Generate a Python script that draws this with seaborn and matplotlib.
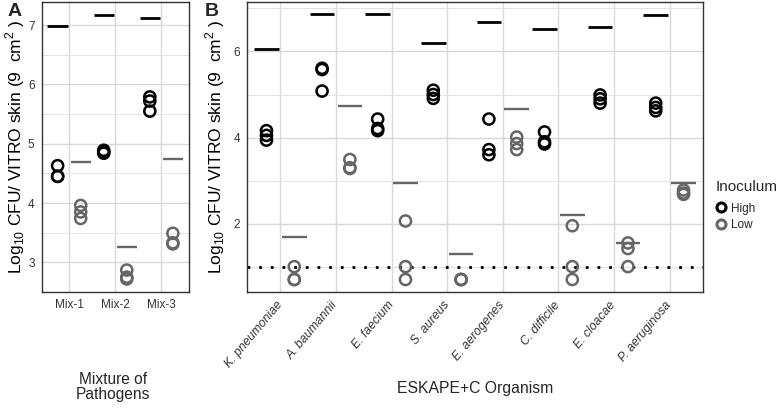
import numpy as np
import pandas as pd
import matplotlib
matplotlib.use("Agg")
import matplotlib.pyplot as plt
from matplotlib.lines import Line2D
from matplotlib.ticker import MultipleLocator
import seaborn as sns

# ---------------- data ----------------
mix_cats = ["Mix-1", "Mix-2", "Mix-3"]
mix_high = [[4.63, 4.45, 4.45], [4.89, 4.86, 4.84], [5.79, 5.72, 5.55]]
mix_low = [[3.96, 3.85, 3.74], [2.87, 2.75, 2.72], [3.49, 3.33, 3.31]]
mix_inoc_high = [6.99, 7.17, 7.12]
mix_inoc_low = [4.69, 3.26, 4.75]

org_cats = ["K. pneumoniae", "A. baumannii", "E. faecium", "S. aureus",
            "E. aerogenes", "C. difficile", "E. cloacae", "P. aeruginosa"]
org_high = [[4.16, 4.05, 3.94], [5.61, 5.58, 5.08], [4.43, 4.21, 4.16],
            [5.10, 5.00, 4.91], [4.43, 3.72, 3.60], [4.13, 3.90, 3.85],
            [4.99, 4.90, 4.80], [4.80, 4.70, 4.62]]
org_low = [[1.0, 0.7, 0.7], [3.49, 3.30, 3.28], [2.06, 1.0, 0.7],
           [0.7, 0.7, 0.7], [4.01, 3.86, 3.72], [1.95, 1.0, 0.7],
           [1.55, 1.42, 1.0], [2.78, 2.71, 2.68]]
org_inoc_high = [6.05, 6.87, 6.87, 6.19, 6.69, 6.52, 6.56, 6.85]
org_inoc_low = [1.69, 4.73, 2.94, 1.30, 4.67, 2.20, 1.54, 2.94]
detection_limit = 1.0

levels = ["High", "Low"]
palette = {"High": "#000000", "Low": "#666666"}


def make_df(cats, high, low):
    rows = []
    for c, h, l in zip(cats, high, low):
        rows += [(c, "High", v) for v in h]
        rows += [(c, "Low", v) for v in l]
    return pd.DataFrame(rows, columns=["group", "Inoculum", "value"])


dfA = make_df(mix_cats, mix_high, mix_low)
dfB = make_df(org_cats, org_high, org_low)

# ---------------- style ----------------
sns.set_theme(style="white")
plt.rcParams["font.family"] = ["Liberation Sans", "DejaVu Sans"]
plt.rcParams["mathtext.fontset"] = "custom"
plt.rcParams["mathtext.rm"] = "Liberation Sans"

fig = plt.figure(figsize=(7.78, 4.09), dpi=100)
W, H = 778, 409


def add_ax(l, r, t, b):
    return fig.add_axes([l / W, 1 - b / H, (r - l) / W, (b - t) / H])


axA = add_ax(41.5, 189, 2, 292)
axB = add_ax(247, 703, 2, 292)

DODGE = 0.25
HALF = 0.22
YLABEL = r"Log$_{\mathregular{10}}$ CFU/ VITRO skin (9  cm$^{\mathregular{2}}$ )"


def draw(ax, df, cats, inoc_high, inoc_low, ylim, major, minor):
    ax.set_axisbelow(True)
    sns.stripplot(data=df, x="group", y="value", hue="Inoculum",
                  order=cats, hue_order=levels, palette=palette,
                  dodge=True, jitter=False, size=8, legend=False, ax=ax,
                  zorder=3)
    for coll in ax.collections:
        fc = coll.get_facecolor()
        offs = coll.get_offsets()
        if len(offs):
            x = np.asarray(offs[:, 0], dtype=float)
            base = np.round(x)
            offs[:, 0] = base + (x - base) / 0.2 * DODGE
            coll.set_offsets(offs)
        coll.set_edgecolor(fc)
        coll.set_facecolor("none")
        coll.set_linewidth(1.8)
    idx = np.arange(len(cats))
    ax.hlines(inoc_high, idx - DODGE - HALF, idx - DODGE + HALF,
              colors=palette["High"], linewidth=2.0, zorder=2)
    ax.hlines(inoc_low, idx + DODGE - HALF, idx + DODGE + HALF,
              colors=palette["Low"], linewidth=1.7, zorder=2)
    ax.set_xlim(-0.6, len(cats) - 0.4)
    ax.set_ylim(*ylim)
    ax.yaxis.set_major_locator(MultipleLocator(major))
    ax.yaxis.set_minor_locator(MultipleLocator(minor))
    ax.grid(True, which="major", color="#d9d9d9", linewidth=1.0)
    ax.grid(True, which="minor", axis="y", color="#e3e3e3", linewidth=0.7)
    for s in ax.spines.values():
        s.set_color("#333333")
        s.set_linewidth(1.0)
    ax.tick_params(axis="both", which="major", direction="out", length=3,
                   width=0.8, color="#333333", labelcolor="#333333",
                   labelsize=8, pad=2)
    ax.tick_params(axis="y", which="minor", length=0)
    ax.set_xlabel("")
    ax.set_ylabel(YLABEL, fontsize=12.5, color="black")


draw(axA, dfA, mix_cats, mix_inoc_high, mix_inoc_low, (2.5, 7.39), 1, 0.5)
draw(axB, dfB, org_cats, org_inoc_high, org_inoc_low, (0.41, 7.15), 2, 1)

axB.axhline(detection_limit, color="black", linewidth=2.0,
            linestyle=(0, (1, 3.2)), dash_capstyle="butt", zorder=1.5)

axA.tick_params(axis="x", labelsize=8.5)
axA.tick_params(axis="y", labelsize=8.5)
axB.tick_params(axis="y", labelsize=8.5)
axB.tick_params(axis="x", pad=5)
for lab in axB.get_xticklabels():
    lab.set_rotation(50)
    lab.set_ha("right")
    lab.set_va("center")
    lab.set_rotation_mode("anchor")
    lab.set_style("italic")
    lab.set_fontsize(8.8)

axA.yaxis.set_label_coords((27 - 41.5) / 147.5, 0.5)
axB.yaxis.set_label_coords((227 - 247) / 456, 0.5)

fig.text(113 / W, 1 - 387 / H, "Mixture of\nPathogens", ha="center",
         va="center", fontsize=11.2, linespacing=1.0)
fig.text(475 / W, 1 - 389 / H, "ESKAPE+C Organism", ha="center",
         va="center", fontsize=11.3)

fig.text(8 / W, 1 - 11 / H, "A", fontsize=14, fontweight="bold",
         ha="left", va="center")
fig.text(205 / W, 1 - 11 / H, "B", fontsize=14, fontweight="bold",
         ha="left", va="center")

handles = [Line2D([], [], marker="o", linestyle="", markerfacecolor="none",
                  markeredgecolor=palette[l], markeredgewidth=2.2,
                  markersize=6.5, label=l) for l in levels]
leg = fig.legend(handles=handles, title="Inoculum", loc="upper left",
                 bbox_to_anchor=(707 / W, 1 - 172 / H), frameon=False,
                 fontsize=8.5, title_fontsize=11, handletextpad=0.35,
                 labelspacing=0.35, handlelength=1.0, borderpad=0.2)
leg._legend_box.align = "left"
leg._legend_box.sep = 6

fig.savefig("out.png", dpi=100)
